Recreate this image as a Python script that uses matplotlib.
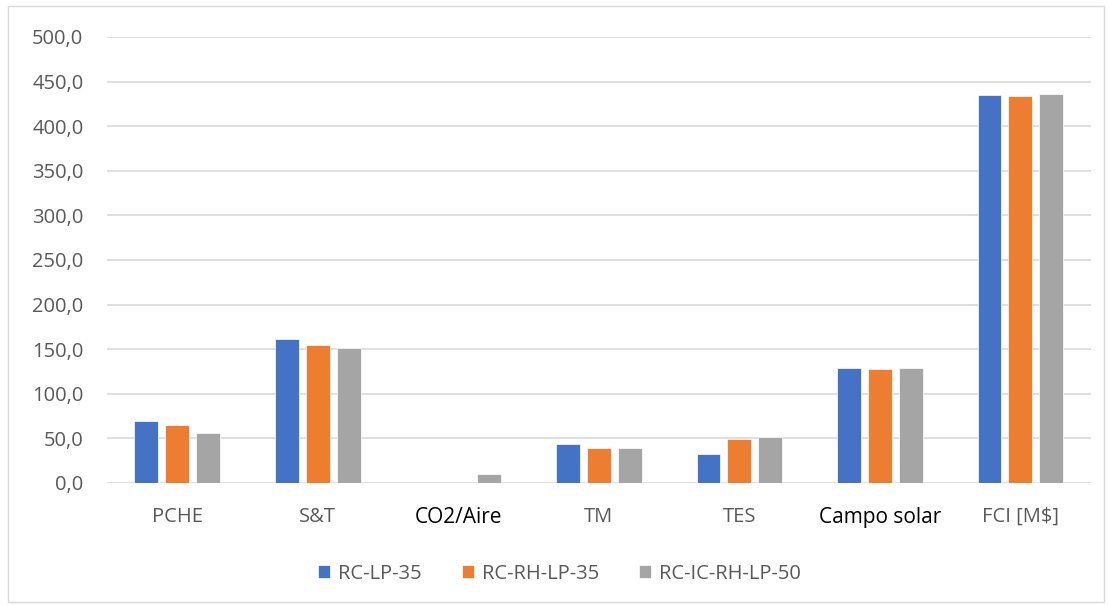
import matplotlib.pyplot as plt
import numpy as np
from matplotlib.patches import Rectangle

categories = ["PCHE", "S&T", "CO2/Aire", "TM", "TES", "Campo solar", "FCI [M$]"]
rc_lp_35 = [69.0, 161.0, 0.0, 43.5, 32.0, 128.5, 434.5]
rc_rh_lp_35 = [64.5, 154.5, 0.0, 39.0, 49.0, 127.5, 433.5]
rc_ic_rh_lp_50 = [56.5, 151.0, 10.5, 39.0, 52.0, 128.5, 436.5]
series_names = ["RC-LP-35", "RC-RH-LP-35", "RC-IC-RH-LP-50"]
yticks = np.arange(0, 501, 50)

colors = ["#4472C4", "#ED7D31", "#A5A5A5"]
plt.rcParams['font.family'] = ['Open Sans', 'DejaVu Sans']

fig = plt.figure(figsize=(11.09, 6.06), dpi=100)
ax = fig.add_axes([0.0965, 0.203, 0.887, 0.736])

x = np.arange(len(categories))
w = 0.17
step = 0.22
for i, (vals, name) in enumerate(zip([rc_lp_35, rc_rh_lp_35, rc_ic_rh_lp_50], series_names)):
    ax.bar(x + (i - 1) * step, vals, width=w, color=colors[i], label=name,
           edgecolor='white', linewidth=0.5, zorder=3)

ax.set_xlim(-0.5, len(categories) - 0.5)
ax.set_ylim(0, 500)
ax.set_yticks(yticks)
ax.set_yticklabels([f"{v:.1f}".replace('.', ',') for v in yticks])
ax.grid(axis='y', color='#d9d9d9', linewidth=1.2, zorder=0)
for s in ax.spines.values():
    s.set_visible(False)
ax.tick_params(axis='both', length=0, colors='#595959', labelsize=14.5)
ax.tick_params(axis='y', pad=17)
ax.tick_params(axis='x', pad=17)
ax.set_xticks(x)
ax.set_xticklabels(categories)
for lbl in ax.get_xticklabels():
    if lbl.get_text() in ("CO2/Aire", "Campo solar"):
        lbl.set_color('black')
        lbl.set_fontsize(15)

ax.legend(loc='upper center', bbox_to_anchor=(0.46, -0.14), ncol=3, frameon=False,
          fontsize=14.5, labelcolor='#595959', handlelength=0.6, handleheight=0.6,
          handletextpad=0.4, columnspacing=2.0)

fig.patches.append(Rectangle((8 / 1109, 4 / 606), 1096 / 1109, 596 / 606,
                             transform=fig.transFigure, fill=False,
                             edgecolor='#d9d9d9', linewidth=1))

fig.savefig("out.png", dpi=100)
